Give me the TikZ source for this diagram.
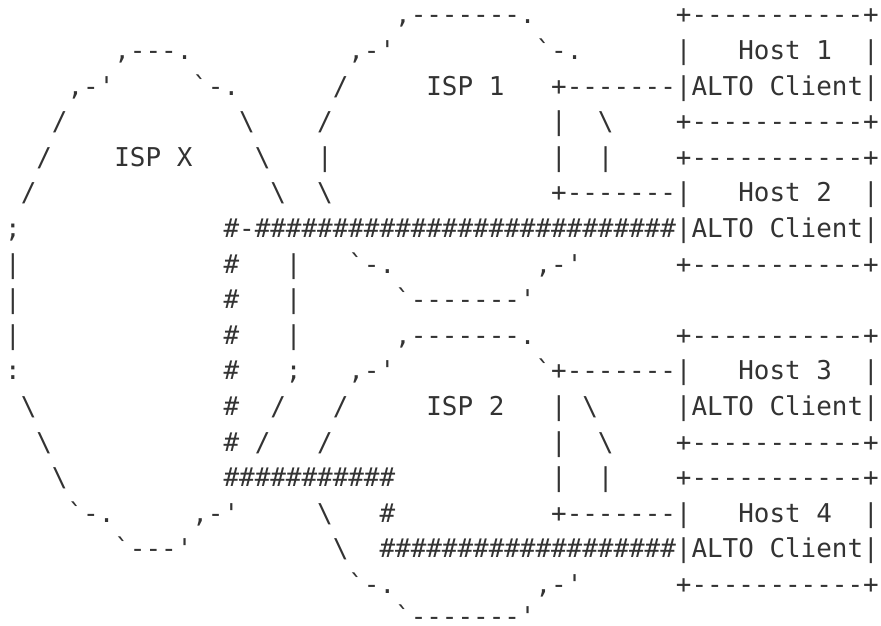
\documentclass[tikz,border=0pt]{standalone}
\usepackage{fontspec}
\setmonofont{DejaVu Sans Mono}
\definecolor{ink}{HTML}{333333}
\newcommand\gapc[1]{\hspace*{#1\fontcharwd\font`x}}
\newcommand\bsl{\textbackslash}
\newcommand\bqt{\char96\relax}
\ExplSyntaxOn
\NewDocumentCommand\hashes{m}{\prg_replicate:nn{#1}{\#}}
\ExplSyntaxOff
\tikzset{art/.style={anchor=base west,inner sep=0pt,outer sep=0pt,text=ink,
  font=\ttfamily\fontsize{25.91pt}{35.6pt}\selectfont}}
\begin{document}
\begin{tikzpicture}[x=1pt,y=1pt]
\fill[white] (0,0) rectangle (881,626);
\useasboundingbox (0,0) rectangle (881,626);
\node[art] (l1) at (5.2,602) {\gapc{25},-------.\gapc{9}+-----------+};
\node[art] (l2) at (5.2,566.4) {\gapc{7},---.\gapc{10},-'\gapc{9}\bqt-.\gapc{6}|\gapc{3}Host\gapc{1}1\gapc{2}|};
\node[art] (l3) at (5.2,530.8) {\gapc{4},-'\gapc{5}\bqt-.\gapc{6}/\gapc{5}ISP\gapc{1}1\gapc{3}+-------|ALTO\gapc{1}Client|};
\node[art] (l4) at (5.2,495.2) {\gapc{3}/\gapc{11}\bsl\gapc{4}/\gapc{14}|\gapc{2}\bsl\gapc{4}+-----------+};
\node[art] (l5) at (5.2,459.6) {\gapc{2}/\gapc{4}ISP\gapc{1}X\gapc{4}\bsl\gapc{3}|\gapc{14}|\gapc{2}|\gapc{4}+-----------+};
\node[art] (l6) at (5.2,424) {\gapc{1}/\gapc{15}\bsl\gapc{2}\bsl\gapc{14}+-------|\gapc{3}Host\gapc{1}2\gapc{2}|};
\node[art] (l7) at (5.2,388.4) {;\gapc{13}\#-\hashes{27}|ALTO\gapc{1}Client|};
\node[art] (l8) at (5.2,352.8) {|\gapc{13}\#\gapc{3}|\gapc{3}\bqt-.\gapc{9},-'\gapc{6}+-----------+};
\node[art] (l9) at (5.2,317.2) {|\gapc{13}\#\gapc{3}|\gapc{6}\bqt-------'};
\node[art] (l10) at (5.2,281.6) {|\gapc{13}\#\gapc{3}|\gapc{6},-------.\gapc{9}+-----------+};
\node[art] (l11) at (5.2,246) {:\gapc{13}\#\gapc{3};\gapc{3},-'\gapc{9}\bqt+-------|\gapc{3}Host\gapc{1}3\gapc{2}|};
\node[art] (l12) at (5.2,210.4) {\gapc{1}\bsl\gapc{12}\#\gapc{2}/\gapc{3}/\gapc{5}ISP\gapc{1}2\gapc{3}|\gapc{1}\bsl\gapc{5}|ALTO\gapc{1}Client|};
\node[art] (l13) at (5.2,174.8) {\gapc{2}\bsl\gapc{11}\#\gapc{1}/\gapc{3}/\gapc{14}|\gapc{2}\bsl\gapc{4}+-----------+};
\node[art] (l14) at (5.2,139.2) {\gapc{3}\bsl\gapc{10}\hashes{11}\gapc{10}|\gapc{2}|\gapc{4}+-----------+};
\node[art] (l15) at (5.2,103.6) {\gapc{4}\bqt-.\gapc{5},-'\gapc{5}\bsl\gapc{3}\#\gapc{10}+-------|\gapc{3}Host\gapc{1}4\gapc{2}|};
\node[art] (l16) at (5.2,68) {\gapc{7}\bqt---'\gapc{9}\bsl\gapc{2}\hashes{19}|ALTO\gapc{1}Client|};
\node[art] (l17) at (5.2,32.4) {\gapc{22}\bqt-.\gapc{9},-'\gapc{6}+-----------+};
\node[art] (l18) at (5.2,0.5) {\gapc{25}\bqt-------'};
\end{tikzpicture}
\end{document}
